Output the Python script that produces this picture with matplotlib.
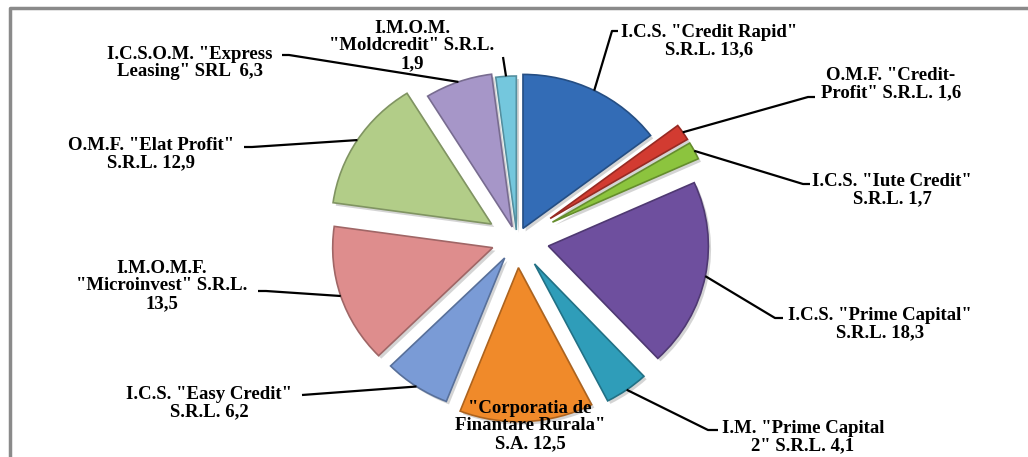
import matplotlib.pyplot as plt
import matplotlib.colors as mcolors
import matplotlib.patches as mpatches
import numpy as np

plt.rcParams['font.family'] = ['Liberation Serif', 'DejaVu Serif']

# shares of the companies, clockwise from the top
names = ['I.C.S. "Credit Rapid"\nS.R.L. ',
         'O.M.F. "Credit-\nProfit" S.R.L. ',
         'I.C.S. "Iute Credit"\nS.R.L. ',
         'I.C.S. "Prime Capital"\nS.R.L. ',
         'I.M. "Prime Capital\n2" S.R.L. ',
         '"Corporatia de\nFinantare Rurala"\nS.A. ',
         'I.C.S. "Easy Credit"\nS.R.L. ',
         'I.M.O.M.F.\n"Microinvest" S.R.L.\n',
         'O.M.F. "Elat Profit"\nS.R.L. ',
         'I.C.S.O.M. "Express\nLeasing" SRL  ',
         'I.M.O.M.\n"Moldcredit" S.R.L.\n']
values = [13.6, 1.6, 1.7, 18.3, 4.1, 12.5, 6.2, 13.5, 12.9, 6.3, 1.9]

colors = ['#336cb6', '#d23b31', '#8cc43e', '#6e4f9e', '#2f9db9', '#f08a2a',
          '#7a9bd6', '#de8d8d', '#b2cd88', '#a696c8', '#74c7dd']
explode = [0.084, 0.25, 0.25, 0.2, 0.19, 0.18, 0.14, 0.16, 0.19, 0.09, 0.065]

# label layout in pixels: text centre, leader stub near the text
label_xy = [(709, 41), (891, 84), (892, 190), (880, 324), (803, 437), (530, 426),
            (209, 403), (162, 286), (151, 154), (190, 63), (412, 46)]
stubs = [[(618, 31), (612, 31)], [(815, 97), (808, 97)], [(810, 184), (803, 184)],
         [(783, 318), (775, 318)], [(718, 430), (708, 430)], None,
         [(302, 395)], [(258, 291), (266, 291)], [(244, 147), (252, 147)],
         [(282, 55), (289, 55)], [(503, 57)]]

W, H = 1028, 457
cx, cy, rx, ry = 517, 240, 160, 154

fig = plt.figure(figsize=(W / 100, H / 100), dpi=100)
ax = fig.add_axes([0, 0, 1, 1])
wedges, _ = ax.pie(values, explode=explode, colors=colors, startangle=90,
                   counterclock=False, radius=1,
                   wedgeprops=dict(linewidth=1.2))
for w, c in zip(wedges, colors):
    dark = 0.72 * np.array(mcolors.to_rgb(c))
    w.set_edgecolor(dark)
    sh = mpatches.Shadow(w, 0.012, -0.014, facecolor='0.45', edgecolor='none',
                         alpha=0.3, zorder=w.get_zorder() - 0.5)
    ax.add_patch(sh)
ax.set_aspect('auto')
ax.set_xlim(-cx / rx, (W - cx) / rx)
ax.set_ylim((cy - H) / ry, cy / ry)
ax.axis('off')

# overlay in pixel coordinates for labels and leaders
ov = fig.add_axes([0, 0, 1, 1], zorder=5)
ov.set_xlim(0, W)
ov.set_ylim(H, 0)
ov.patch.set_alpha(0)
ov.axis('off')

to_px = ax.transData + ov.transData.inverted()
for w, name, v, (tx, ty), st in zip(wedges, names, values, label_xy, stubs):
    txt = name + f'{v:.1f}'.replace('.', ',')
    ov.text(tx, ty, txt, ha='center', va='center', multialignment='center',
            fontsize=13.5, fontweight='bold', linespacing=1.05, color='black')
    if st is None:
        continue
    mid = np.deg2rad(0.5 * (w.theta1 + w.theta2))
    px, py = to_px.transform((w.center[0] + w.r * np.cos(mid),
                              w.center[1] + w.r * np.sin(mid)))
    xs = [p[0] for p in st] + [px]
    ys = [p[1] for p in st] + [py]
    ov.plot(xs, ys, color='black', lw=1.6, solid_capstyle='butt')

# chart frame
ov.plot([10, 10, W + 5], [H + 5, 8, 8], color='#8a8a8a', lw=2.5, clip_on=False)

fig.savefig('out.png', dpi=100)
